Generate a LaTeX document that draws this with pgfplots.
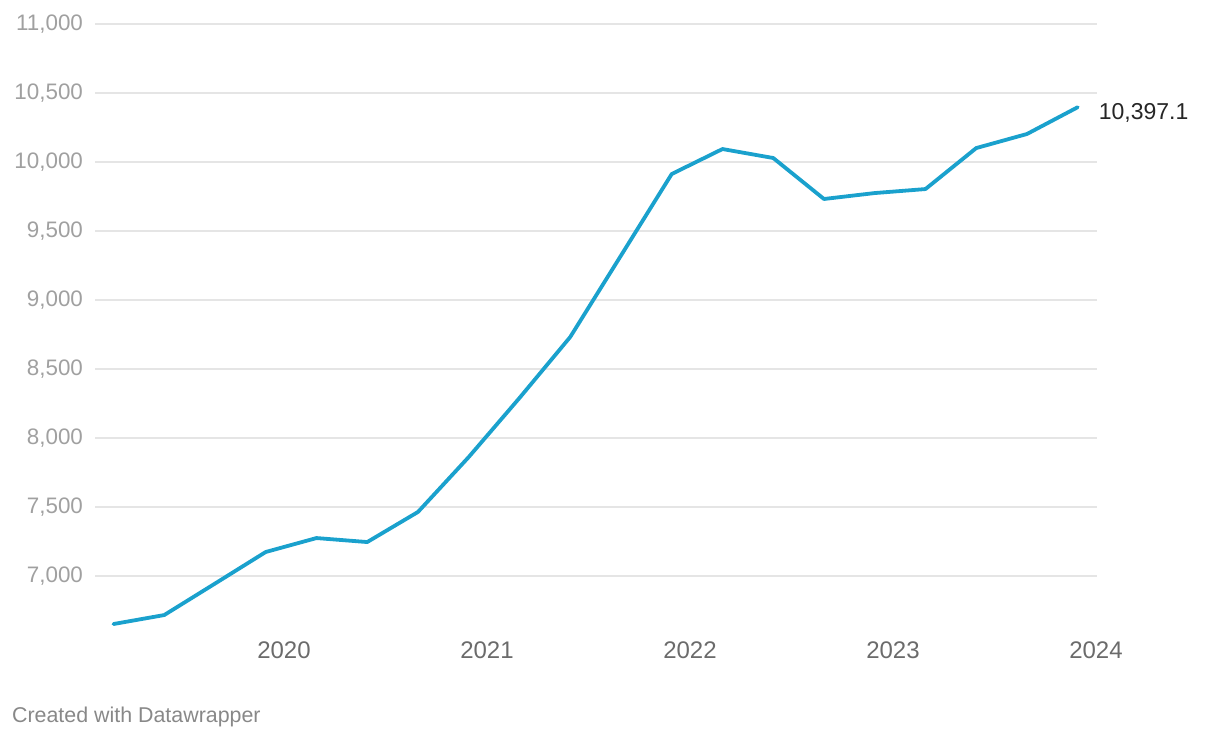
\documentclass[border=0pt]{standalone}
\usepackage{fontspec}
\setmainfont{Liberation Sans}
\usepackage{pgfplots}
\pgfplotsset{compat=1.18}

\definecolor{linecol}{HTML}{1AA1CD}
\definecolor{gridcol}{HTML}{E5E5E5}
\definecolor{ylabcol}{HTML}{A0A0A0}
\definecolor{xlabcol}{HTML}{6B6B6B}
\definecolor{notecol}{HTML}{888888}

\begin{document}
\begin{tikzpicture}
\useasboundingbox (0,0) rectangle (610pt,370pt);
\begin{axis}[
    at={(47.5pt,54.4pt)}, anchor=south west,
    scale only axis,
    width=501pt, height=303.6pt,
    xmin=2019.069, xmax=2024.005,
    ymin=6600, ymax=11000,
    axis line style={draw=none},
    major tick length=0pt,
    ytick={7000,7500,...,11000},
    scaled y ticks=false,
    ymajorgrids,
    grid style={gridcol, line width=0.85pt},
    xtick={2020,2021,2022,2023,2024},
    xticklabels={2020,2021,2022,2023,2024},
    /pgf/number format/.cd, fixed, 1000 sep={,}, assume math mode=true,
    /pgfplots/.cd,
    yticklabel style={font=\fontsize{11.2}{13}\selectfont, text=ylabcol, anchor=east, xshift=-2.5pt},
    xticklabel style={font=\fontsize{12}{14}\selectfont, text=xlabcol, anchor=north, yshift=-1.5pt},
    clip=false,
]
\addplot [linecol, line width=1.9pt, line join=round, line cap=round] table {
2019.16 6652
2019.41 6717
2019.66 6945
2019.91 7174
2020.16 7275
2020.41 7246
2020.66 7464
2020.91 7862
2021.16 8290
2021.41 8732
2021.66 9322
2021.91 9913
2022.16 10094
2022.41 10029
2022.66 9732
2022.91 9775
2023.16 9804
2023.41 10101
2023.66 10203
2023.91 10397.1
};
\node [anchor=west, xshift=7pt, yshift=-3pt, text=black!85, font=\fontsize{11.5}{13}\selectfont]
    at (axis cs:2023.91,10397.1) {10,397.1};
\end{axis}
\node [anchor=west, text=notecol, font=\fontsize{10.7}{12}\selectfont] at (2.5pt,11.5pt) {Created with Datawrapper};
\end{tikzpicture}
\end{document}
